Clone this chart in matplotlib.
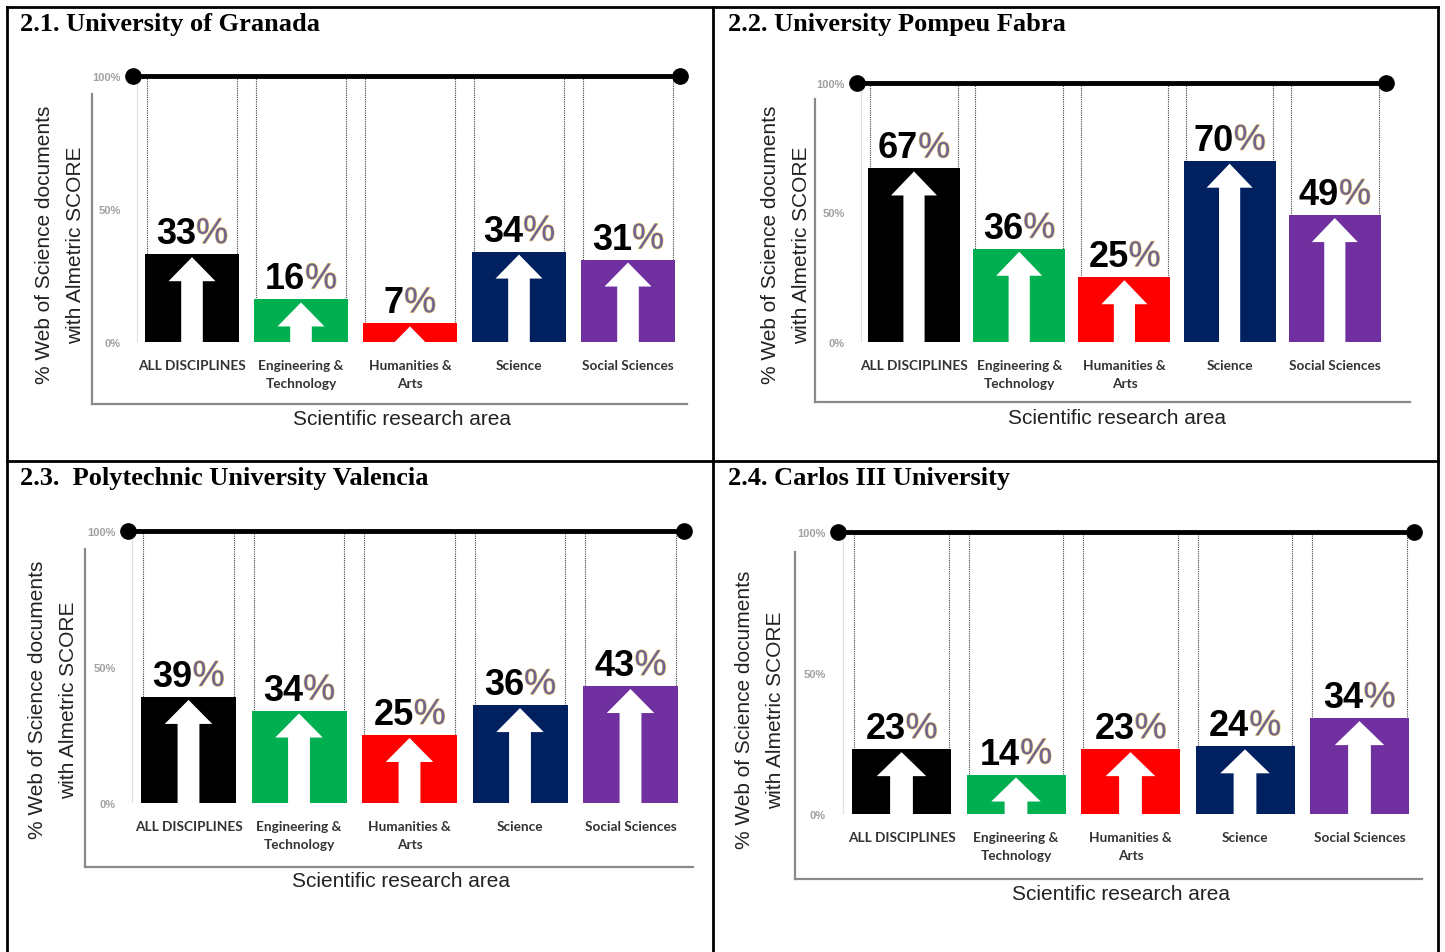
import matplotlib
matplotlib.use("Agg")
import matplotlib.pyplot as plt
from matplotlib.lines import Line2D
from matplotlib.patches import Polygon
from matplotlib.offsetbox import TextArea, HPacker, AnnotationBbox
import matplotlib.patheffects as pe

# ---------------- data ----------------
categories = ["ALL DISCIPLINES", "Engineering &\nTechnology", "Humanities &\nArts",
              "Science", "Social Sciences"]
bar_colors = ["#000000", "#00b050", "#ff0000", "#002060", "#7030a0"]
granada = [33, 16, 7, 34, 31]
pompeu_fabra = [67, 36, 25, 70, 49]
valencia = [39, 34, 25, 36, 43]
carlos_iii = [23, 14, 23, 24, 34]
titles = ["2.1. University of Granada", "2.2. University Pompeu Fabra",
          "2.3.  Polytechnic University Valencia", "2.4. Carlos III University"]
ytick_vals = [0, 50, 100]
ytick_labels = ["0%", "50%", "100%"]
ylabel_text = "% Web of Science documents\nwith Almetric SCORE"
xlabel_text = "Scientific research area"

W, H = 1445, 953
fig = plt.figure(figsize=(W / 100, H / 100), dpi=100)
fig.patch.set_facecolor("white")

def fx(x):
    return x / W

def fy(y):
    return 1 - y / H

# layout per panel in pixels
layouts = [
    dict(y0=343, y100=77, c0=192, sp=109.0, bw=94, L=133, R=680,
         fL=92, fT=95, fB=405, fR=687, xl=(402, 420), yl=(60, 245),
         title=(20, 25)),
    dict(y0=343, y100=84, c0=914, sp=105.2, bw=92, L=857, R=1386,
         fL=815, fT=100, fB=403, fR=1410, xl=(1117, 418), yl=(786, 245),
         title=(728, 25)),
    dict(y0=804, y100=532, c0=188.5, sp=110.5, bw=95, L=128, R=684,
         fL=85, fT=550, fB=868, fR=693, xl=(401, 882), yl=(53, 700),
         title=(20, 479)),
    dict(y0=815, y100=533, c0=901.5, sp=114.5, bw=99, L=838, R=1414,
         fL=795, fT=553, fB=880, fR=1422, xl=(1121, 895), yl=(760, 710),
         title=(728, 479)),
]
datasets = [granada, pompeu_fabra, valencia, carlos_iii]

for lay, vals, title in zip(layouts, datasets, titles):
    y0, y100 = lay["y0"], lay["y100"]
    ax = fig.add_axes([fx(lay["L"]), fy(y0), (lay["R"] - lay["L"]) / W, (y0 - y100) / H])
    sp = lay["sp"]
    xmin = (lay["L"] - lay["c0"]) / sp
    xmax = (lay["R"] - lay["c0"]) / sp
    ax.set_xlim(xmin, xmax)
    ax.set_ylim(0, 100)
    for s in ax.spines.values():
        s.set_visible(False)
    pxu = 100.0 / (y0 - y100)  # data units per pixel (y)
    bw = lay["bw"] / sp
    xs = list(range(len(categories)))

    # faint guides
    ax.axhline(0, color="#d8d8d8", lw=0.8, zorder=0)
    ax.axvline(xmin + 0.04, ymax=1, color="#e0e0e0", lw=0.8, zorder=0)

    bars = ax.bar(xs, vals, width=bw, color=bar_colors, zorder=2)
    # dotted vertical lines at bar edges
    for x in xs:
        for e in (x - bw / 2 + 0.02, x + bw / 2 - 0.02):
            ax.plot([e, e], [0, 100], color="#444444", lw=0.8, ls=(0, (1, 1)), zorder=1)
    # arrows
    head_h = 24 * pxu
    for x, v, b in zip(xs, vals, bars):
        tip = v - 3 * pxu
        hw = bw * 0.25
        sw = bw * 0.115
        poly = Polygon([(x, tip), (x + hw, tip - head_h), (x + sw, tip - head_h),
                        (x + sw, 0), (x - sw, 0), (x - sw, tip - head_h),
                        (x - hw, tip - head_h)], closed=True,
                       facecolor="white", edgecolor="none", zorder=3)
        ax.add_patch(poly)
        poly.set_clip_path(b)
        # value labels
        t1 = TextArea(f"{v}", textprops=dict(fontsize=26, fontweight="bold",
                                              family="Liberation Sans", color="black"))
        t2 = TextArea("%", textprops=dict(fontsize=26, family="Liberation Sans",
                                          color="#6f6496",
                                          path_effects=[pe.withStroke(linewidth=0.9,
                                                                      foreground="#e9c86a")]))
        box = HPacker(children=[t1, t2], align="baseline", pad=0, sep=0)
        ab = AnnotationBbox(box, (x, v + 3 * pxu), box_alignment=(0.5, 0.0),
                            frameon=False, pad=0, zorder=5)
        ax.add_artist(ab)

    # 100% line with end dots
    ax.plot([xmin, xmax], [100, 100], color="black", lw=3.5, solid_capstyle="butt",
            marker="o", ms=11, clip_on=False, zorder=6)

    ax.set_yticks(ytick_vals)
    ax.set_yticklabels(ytick_labels, fontsize=8, color="#a0a0a0",
                       family="Liberation Sans", fontweight="bold")
    ax.tick_params(axis="y", length=0, pad=9)
    ax.set_xticks(xs)
    ax.set_xticklabels(categories, fontsize=9.8, color="#333333", family="Lato",
                       fontweight="bold", linespacing=1.6)
    ax.tick_params(axis="x", length=0, pad=12)

    # chart frame (left and bottom)
    fig.add_artist(Line2D([fx(lay["fL"]), fx(lay["fL"])], [fy(lay["fT"]), fy(lay["fB"])],
                          color="#8a8a8a", lw=1.6))
    fig.add_artist(Line2D([fx(lay["fL"]), fx(lay["fR"])], [fy(lay["fB"]), fy(lay["fB"])],
                          color="#8a8a8a", lw=1.6))
    fig.text(fx(lay["xl"][0]), fy(lay["xl"][1]), xlabel_text, ha="center", va="center",
             fontsize=15, color="#222222", family="Liberation Sans")
    fig.text(fx(lay["yl"][0]), fy(lay["yl"][1]), ylabel_text, ha="center", va="center",
             rotation=90, fontsize=15, color="#222222", family="Liberation Sans",
             linespacing=1.75)
    fig.text(fx(lay["title"][0]), fy(lay["title"][1]), title, ha="left", va="center",
             fontsize=19, fontweight="bold", family="Liberation Serif", color="black")

# table borders
for (x1, y1, x2, y2) in [(7, 8, 1438, 8), (7, 462, 1438, 462), (7, 8, 7, 953),
                          (713, 8, 713, 953), (1438, 8, 1438, 953)]:
    fig.add_artist(Line2D([fx(x1), fx(x2)], [fy(y1), fy(y2)], color="black", lw=2))

fig.savefig("out.png", dpi=100)
